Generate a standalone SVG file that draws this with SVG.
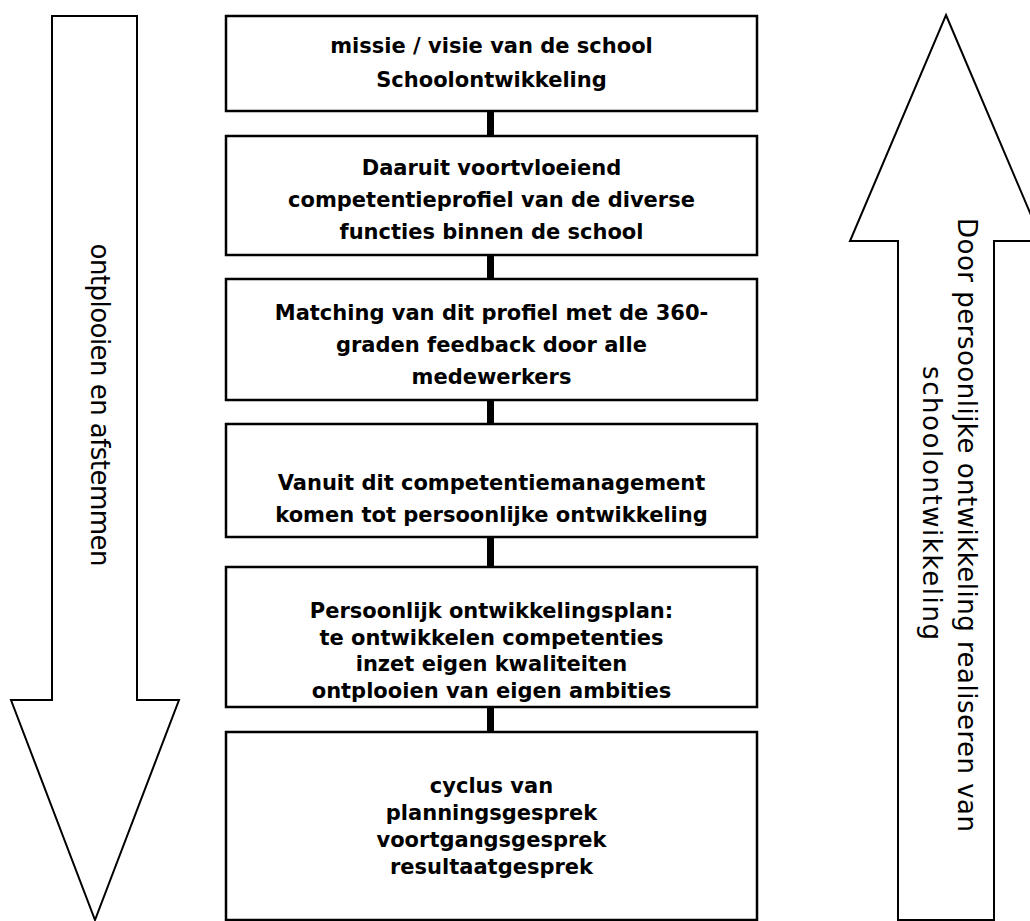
<svg xmlns="http://www.w3.org/2000/svg" width="1030" height="921" viewBox="0 0 1030 921">
<style>
.box{fill:#fff;stroke:#000;stroke-width:2.5}
.arr{fill:#fff;stroke:#000;stroke-width:2;stroke-linejoin:miter}
.t{font-family:"DejaVu Sans",Verdana,sans-serif;font-weight:bold;font-size:21px;text-anchor:middle;fill:#000}
.r{font-family:"DejaVu Sans",Verdana,sans-serif;font-size:26px;text-anchor:middle;fill:#000}
.c{fill:#000}
</style>
<rect width="1030" height="921" fill="#fff"/>
<g id="arrow-down">
<polygon class="arr" points="52,16 137,16 137,700 179,700 95,920 11,700 52,700"/>
<text class="r" transform="translate(98,405) rotate(90)" y="7" textLength="323">ontplooien en afstemmen</text>
</g>
<g id="arrow-up">
<polygon class="arr" points="946,15 1042,241 994,241 994,920 898,920 898,241 850,241"/>
<text class="r" transform="translate(965,525) rotate(90)" y="7" textLength="614">Door persoonlijke ontwikkeling realiseren van</text>
<text class="r" transform="translate(930,503) rotate(90)" y="7" textLength="274">schoolontwikkeling</text>
</g>
<g id="connectors">
<rect class="c" x="487" y="111" width="7" height="25"/>
<rect class="c" x="487" y="255" width="7" height="24"/>
<rect class="c" x="487" y="400" width="7" height="24"/>
<rect class="c" x="487" y="537" width="7" height="30"/>
<rect class="c" x="487" y="707" width="7" height="25"/>
</g>
<g id="n1">
<rect class="box" x="226" y="16" width="531" height="95"/>
<text class="t" x="491.5" y="53">missie / visie van de school</text>
<text class="t" x="491.5" y="87">Schoolontwikkeling</text>
</g>
<g id="n2">
<rect class="box" x="226" y="136" width="531" height="119"/>
<text class="t" x="491.5" y="175">Daaruit voortvloeiend</text>
<text class="t" x="491.5" y="207">competentieprofiel van de diverse</text>
<text class="t" x="491.5" y="239">functies binnen de school</text>
</g>
<g id="n3">
<rect class="box" x="226" y="279" width="531" height="121"/>
<text class="t" x="491.5" y="320">Matching van dit profiel met de 360-</text>
<text class="t" x="491.5" y="352">graden feedback door alle</text>
<text class="t" x="491.5" y="384">medewerkers</text>
</g>
<g id="n4">
<rect class="box" x="226" y="424" width="531" height="113"/>
<text class="t" x="491.5" y="490">Vanuit dit competentiemanagement</text>
<text class="t" x="491.5" y="522">komen tot persoonlijke ontwikkeling</text>
</g>
<g id="n5">
<rect class="box" x="226" y="567" width="531" height="140"/>
<text class="t" x="491.5" y="618">Persoonlijk ontwikkelingsplan:</text>
<text class="t" x="491.5" y="645">te ontwikkelen competenties</text>
<text class="t" x="491.5" y="671">inzet eigen kwaliteiten</text>
<text class="t" x="491.5" y="698">ontplooien van eigen ambities</text>
</g>
<g id="n6">
<rect class="box" x="226" y="732" width="531" height="188"/>
<text class="t" x="491.5" y="793">cyclus van</text>
<text class="t" x="491.5" y="820">planningsgesprek</text>
<text class="t" x="491.5" y="847">voortgangsgesprek</text>
<text class="t" x="491.5" y="874">resultaatgesprek</text>
</g>
</svg>
